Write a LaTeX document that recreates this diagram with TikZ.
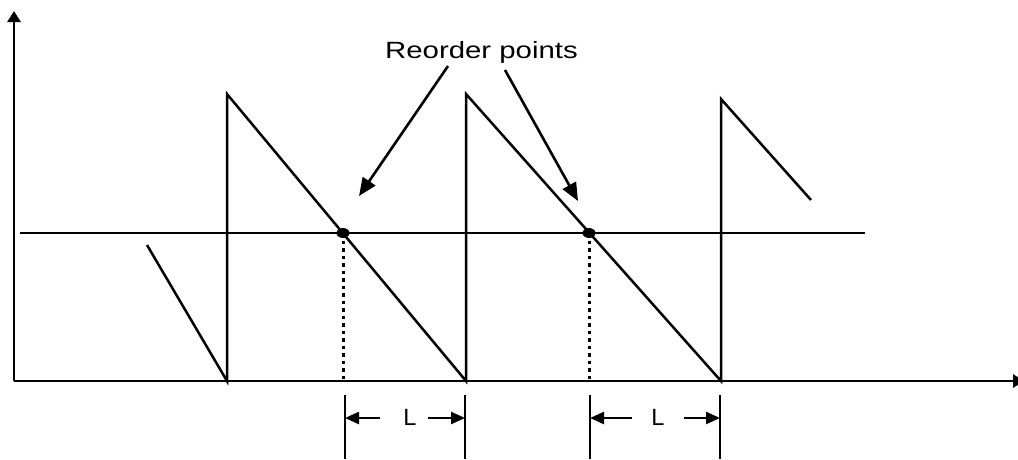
\documentclass[tikz,border=0pt]{standalone}
\usepackage{fontspec}
\setmainfont{Liberation Sans}
\usetikzlibrary{arrows.meta}
\begin{document}
\begin{tikzpicture}[x=1pt,y=-1pt,
  axis/.style={line width=2.8pt,-{Triangle[length=11pt,width=13pt]}},
  saw/.style={line width=2.5pt,line join=miter},
  level/.style={line width=1.8pt},
  dotline/.style={line width=3pt,dash pattern=on 3.5pt off 4pt},
  dimline/.style={line width=2.4pt},
  dimarrow/.style={line width=2.4pt,-{Triangle[length=14pt,width=12pt]}},
  callout/.style={line width=2.6pt,-{Triangle[length=18pt,width=15pt]}},
  txt/.style={font=\fontsize{23.5}{28}\selectfont,inner sep=0pt,anchor=base}]
\useasboundingbox (0,0) rectangle (1018,459);
\clip (0,0) rectangle (1018,459);
% axes
\coordinate (O) at (14,381);
\coordinate (Ytop) at (14,11);
\coordinate (Xend) at (1024,381);
\draw[axis] (O) -- (Ytop);
\draw[axis] (O) -- (Xend);
% reorder level
\coordinate (Ls) at (20,233);
\coordinate (Le) at (865,233);
\draw[level] (Ls) -- (Le);
% sawtooth
\coordinate (s0) at (147,245);
\coordinate (b1) at (227,381);
\coordinate (t1) at (227,94);
\coordinate (b2) at (466,381);
\coordinate (t2) at (466,94);
\coordinate (b3) at (721,381);
\coordinate (t3) at (721,99);
\coordinate (s4) at (811,200);
\draw[saw] (s0) -- (b1) -- (t1) -- (b2) -- (t2) -- (b3) -- (t3) -- (s4);
% reorder points
\coordinate (r1) at (343,233);
\coordinate (r2) at (589,233);
\coordinate (r1b) at (343,381);
\coordinate (r2b) at (589,381);
\draw[dotline] (r1) -- (r1b);
\draw[dotline] (r2) -- (r2b);
\fill (r1) ellipse [x radius=6.5pt, y radius=5pt];
\fill (r2) ellipse [x radius=6.5pt, y radius=5pt];
% label and callouts
\node[txt] (title) at (481.5,58.5) {\scalebox{1.25}[1]{Reorder points}};
\coordinate (c1s) at (448,66);
\coordinate (c1e) at (359,196);
\coordinate (c2s) at (505,70);
\coordinate (c2e) at (578,201);
\draw[callout] (c1s) -- (c1e);
\draw[callout] (c2s) -- (c2e);
% dimension lines
\coordinate (d1a) at (345,395); \coordinate (d1ab) at (345,459);
\coordinate (d1b) at (465,395); \coordinate (d1bb) at (465,459);
\coordinate (d2a) at (590,395); \coordinate (d2ab) at (590,459);
\coordinate (d2b) at (720,395); \coordinate (d2bb) at (720,459);
\draw[dimline] (d1a) -- (d1ab);
\draw[dimline] (d1b) -- (d1bb);
\draw[dimline] (d2a) -- (d2ab);
\draw[dimline] (d2b) -- (d2bb);
\node[txt] (L1) at (410,425) {L};
\node[txt] (L2) at (658,425) {L};
\coordinate (a1s) at (380,418); \coordinate (a1e) at (345,418);
\coordinate (a2s) at (428,418); \coordinate (a2e) at (465,418);
\coordinate (a3s) at (632,418); \coordinate (a3e) at (590,418);
\coordinate (a4s) at (684,418); \coordinate (a4e) at (720,418);
\draw[dimarrow] (a1s) -- (a1e);
\draw[dimarrow] (a2s) -- (a2e);
\draw[dimarrow] (a3s) -- (a3e);
\draw[dimarrow] (a4s) -- (a4e);
\end{tikzpicture}
\end{document}
